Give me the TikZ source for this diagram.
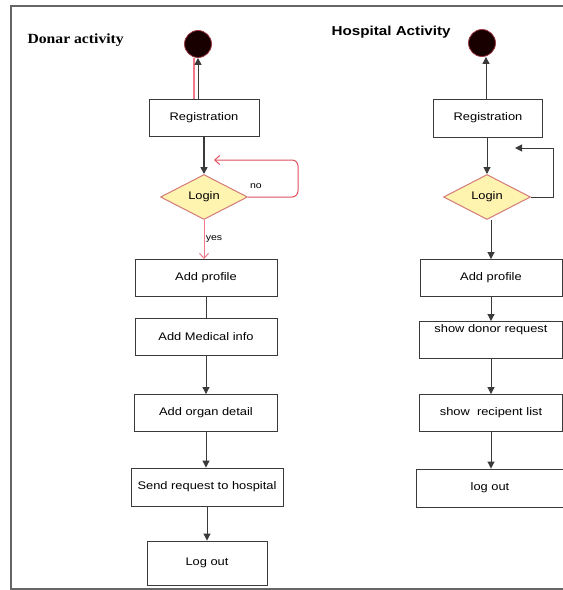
\documentclass[tikz,border=0pt]{standalone}
\usepackage{fontspec}
\setmainfont[FakeStretch=1.17]{Liberation Sans}
\newfontfamily\titleserif[FakeStretch=1.12]{Liberation Serif}
\usetikzlibrary{shapes.geometric,arrows.meta}
\definecolor{linegray}{HTML}{3A3A3A}
\definecolor{loopred}{HTML}{E0505F}
\definecolor{pinkline}{HTML}{F07A8A}
\definecolor{diafill}{HTML}{FFF3B0}
\definecolor{diadraw}{HTML}{D27A78}
\begin{document}
\begin{tikzpicture}[x=1pt,y=-1pt,
  box/.style={draw=linegray, line width=0.9pt, fill=white, inner sep=0pt,
    font=\fontsize{11}{13}\selectfont, yshift=0pt},
  startc/.style={circle, fill=black!90!red, draw=loopred!70!black, line width=0.8pt,
    minimum size=27pt, inner sep=0pt},
  dia/.style={diamond, draw=diadraw, fill=diafill, line width=1pt, inner sep=0pt,
    minimum width=87pt, minimum height=45pt, font=\fontsize{11}{13}\selectfont},
  arr/.style={draw=linegray, line width=1pt, -{Triangle[length=7pt,width=7pt]}},
  plain/.style={draw=linegray, line width=1pt},
  redarr/.style={draw=loopred, line width=1pt, rounded corners=6pt, -{Straight Barb[length=5pt,width=9pt]}},
  pinkarr/.style={draw=pinkline, line width=1pt, -{Straight Barb[length=5pt,width=9pt]}},
  lbl/.style={font=\fontsize{9}{11}\selectfont, inner sep=1pt}
]
\useasboundingbox (0,0) rectangle (563,590);
% frame
\draw[gray!80!black, line width=1.6pt] (575,6) -- (11,6) -- (11,589) -- (575,589);

% titles
\node[anchor=west, font=\titleserif\bfseries\fontsize{14}{16}\selectfont] (t1) at (24,40) {Donar activity};
\node[anchor=west, font=\bfseries\fontsize{13}{15}\selectfont] (t2) at (328,32) {Hospital Activity};

% ---------- Donar column ----------
\node[startc] (s1) at (198,44) {};
\node[box, minimum width=110pt, minimum height=37pt] (r1) at (204,118) {Registration};
\node[dia] (l1) at (204,197) {Login};
\node[box, minimum width=142pt, minimum height=37pt] (p1) at (206,278) {Add profile};
\node[box, minimum width=142pt, minimum height=37pt] (m1) at (206,337) {Add Medical info};
\node[box, minimum width=143pt, minimum height=37pt] (o1) at (206,413) {Add organ detail};
\node[box, minimum width=152pt, minimum height=38pt] (q1) at (207,487) {Send request to hospital};
\node[box, minimum width=120pt, minimum height=44pt] (g1) at (207,563) {Log out};

\draw[pinkline, line width=1.2pt] ([xshift=-4pt]r1.north -| s1) -- ([xshift=-4pt]s1.south);
\draw[arr] (r1.north -| s1) -- (s1.south);
\draw[arr, line width=1.6pt] (r1.south) -- (l1.north);
\coordinate (n1) at (214,160);
\draw[redarr] (l1.east) -- (298,197) -- (298,160) -- (n1);
\node[lbl] (no) at (256,186) {no};
\draw[pinkarr] (l1.south) -- (l1.south |- p1.north);
\node[lbl] (yes) at (214,239) {yes};
\draw[plain] (p1.south) -- (m1.north);
\draw[arr] (m1.south) -- (o1.north);
\draw[arr] (o1.south) -- (o1.south |- q1.north);
\draw[arr] (q1.south) -- (g1.north);

% ---------- Hospital column ----------
\node[startc] (s2) at (482,43) {};
\node[box, minimum width=109pt, minimum height=38pt] (r2) at (488,118) {Registration};
\node[dia] (l2) at (487,197) {Login};
\node[box, minimum width=142pt, minimum height=37pt] (p2) at (491,278) {Add profile};
\node[box, minimum width=143pt, minimum height=37pt, text depth=22pt] (d2) at (491,340) {show donor request};
\node[box, minimum width=143pt, minimum height=37pt] (c2) at (491,413) {show\ \ recipent list};
\node[box, minimum width=147pt, minimum height=38pt] (g2) at (490,488) {log out};

\draw[arr] ([xshift=4pt]r2.north -| s2) -- ([xshift=4pt]s2.south);
\draw[arr] (r2.south -| l2) -- (l2.north);
\coordinate (n2) at (515,148);
\draw[arr] (l2.east) -- (553,197) -- (553,148) -- (n2);
\draw[arr] ([xshift=4pt]l2.south) -- ([xshift=4pt]l2.south |- p2.north);
\draw[arr] (p2.south) -- (d2.north);
\draw[arr] (d2.south) -- (c2.north);
\draw[arr] (c2.south) -- (c2.south |- g2.north);
\end{tikzpicture}
\end{document}
